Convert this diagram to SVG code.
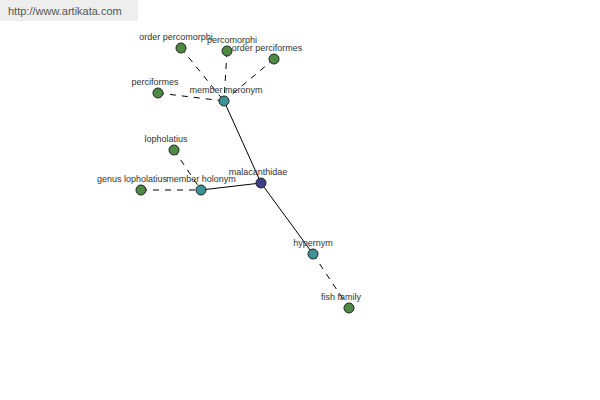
<svg xmlns="http://www.w3.org/2000/svg" width="600" height="400" viewBox="0 0 600 400">
<style>
text{font-family:"Liberation Sans",Arial,sans-serif;font-size:9px;fill:#333;text-anchor:middle}
.s{stroke:#000;stroke-width:1;fill:none}
.d{stroke:#000;stroke-width:1;fill:none;stroke-dasharray:6,6}
circle{stroke:#222;stroke-width:1}
.g{fill:#4e8a44}
.t{fill:#3e9494}
.n{fill:#3c3f8e}
</style>
<rect x="0" y="0" width="600" height="400" fill="#fff"/>
<rect x="0" y="0" width="138" height="21" fill="#eeeeee"/>
<text x="8" y="15" style="text-anchor:start;font-size:11px;fill:#555">http://www.artikata.com</text>
<g id="connectors">
<line class="s" x1="261" y1="183" x2="224" y2="101"/>
<line class="s" x1="261" y1="183" x2="201" y2="190"/>
<line class="s" x1="261" y1="183" x2="313" y2="254"/>
<line class="d" x1="181" y1="48" x2="224" y2="101"/>
<line class="d" x1="227" y1="51" x2="224" y2="101"/>
<line class="d" x1="274" y1="59" x2="224" y2="101"/>
<line class="d" x1="158" y1="93" x2="224" y2="101"/>
<line class="d" x1="174" y1="150" x2="201" y2="190"/>
<line class="d" x1="141" y1="190" x2="201" y2="190"/>
<line class="d" x1="313" y1="254" x2="349" y2="308"/>
</g>
<g id="malacanthidae"><circle class="n" cx="261" cy="183" r="5"/><text x="258" y="175">malacanthidae</text></g>
<g id="member-meronym"><circle class="t" cx="224" cy="101" r="5"/><text x="226" y="93">member meronym</text></g>
<g id="member-holonym"><circle class="t" cx="201" cy="190" r="5"/><text x="201" y="182">member holonym</text></g>
<g id="hypernym"><circle class="t" cx="313" cy="254" r="5"/><text x="313" y="246">hypernym</text></g>
<g id="fish-family"><circle class="g" cx="349" cy="308" r="5"/><text x="341" y="300">fish family</text></g>
<g id="order-percomorphi"><circle class="g" cx="181" cy="48" r="5"/><text x="176" y="40">order percomorphi</text></g>
<g id="percomorphi"><circle class="g" cx="227" cy="51" r="5"/><text x="232" y="43">percomorphi</text></g>
<g id="order-perciformes"><circle class="g" cx="274" cy="59" r="5"/><text x="267" y="51">order perciformes</text></g>
<g id="perciformes"><circle class="g" cx="158" cy="93" r="5"/><text x="155" y="85">perciformes</text></g>
<g id="lopholatius"><circle class="g" cx="174" cy="150" r="5"/><text x="166" y="142">lopholatius</text></g>
<g id="genus-lopholatius"><circle class="g" cx="141" cy="190" r="5"/><text x="132" y="182">genus lopholatius</text></g>
</svg>
